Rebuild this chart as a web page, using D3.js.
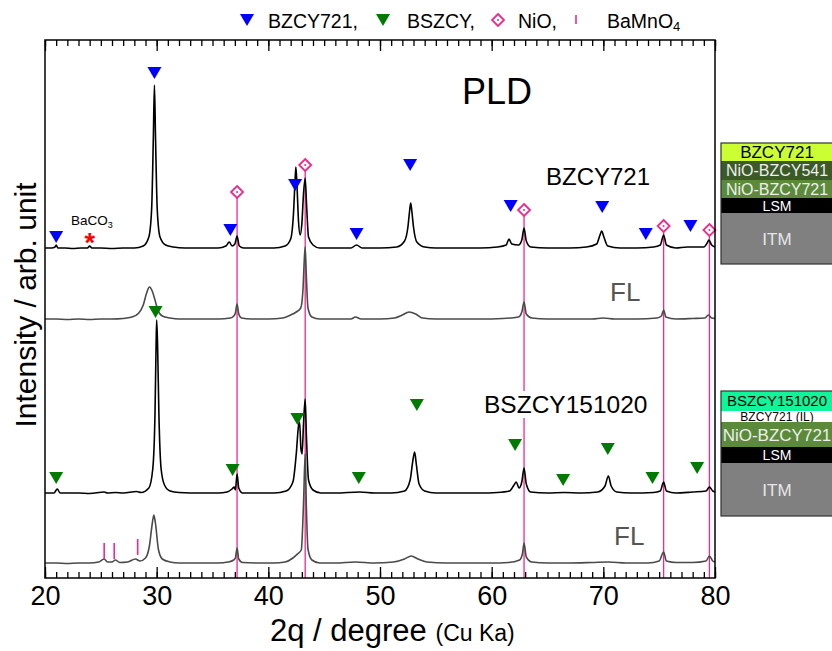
<!DOCTYPE html>
<html><head><meta charset="utf-8">
<script src="https://cdn.jsdelivr.net/npm/d3@7"></script>
<style>
html,body{margin:0;padding:0;background:#fff;}
svg{display:block;font-family:"Liberation Sans",Arial,Helvetica,sans-serif;}
</style></head>
<body><svg id="c" width="832" height="651"></svg>
<script>
// ---------- DATA ----------
const xDomain = [20, 80];
const xMajorTicks = [20, 30, 40, 50, 60, 70, 80];
const traceNames = ["BZCY721", "FL", "BSZCY151020", "FL"];
const traceOffsets = [329, 258, 84, 14];

const traceBZCY721 = [[20,1],[20.6,1],[20.9,2],[21.0,4],[21.15,1],[21.8,1],[22.5,0.5],[23.2,1],[23.8,1],[24.0,3],[24.2,1],[25,1],[26,0.5],[27,1],[28,1],[28.8,3],[29.3,12],[29.55,40],[29.7,110],[29.8,164],[29.9,110],[30.05,40],[30.3,12],[30.8,4],[31.5,2],[32.5,1],[34,1],[35.5,1],[36.2,3],[36.5,7],[36.75,3],[37.0,5],[37.2,13],[37.4,3],[37.8,1],[39,1],[40.5,1],[41.5,3],[42.0,10],[42.25,35],[42.4,70],[42.47,82],[42.58,60],[42.7,28],[42.85,14],[43.0,25],[43.15,55],[43.3,71],[43.42,45],[43.6,12],[44.0,4],[44.6,1],[46,1],[47.4,1],[47.9,4],[48.4,1],[50,1],[51.5,2],[52.2,8],[52.5,22],[52.65,38],[52.75,46],[52.85,38],[53.0,22],[53.3,7],[54,2],[55,1],[57,1],[59,1],[60.5,2],[61.3,4],[61.55,10],[61.8,5],[62.4,4],[62.7,9],[62.9,21],[63.1,8],[63.5,2],[65,1],[67,1],[68.5,2],[69.4,5],[69.7,14],[69.85,18],[70.05,12],[70.4,3],[71.5,1],[73,1],[74.5,2],[75.1,4],[75.4,14],[75.65,4],[76.5,1],[77.5,2],[78.2,2],[79.0,2],[79.3,6],[79.45,9],[79.7,4],[80,2]];
const traceFL1 = [[20,1],[21,1],[22,0.5],[23,1],[24,0.5],[25,1],[26,1],[27,1.5],[27.8,3],[28.4,7],[28.8,15],[29.1,27],[29.35,33],[29.6,29],[29.85,20],[30.1,10],[30.5,4],[31.2,2],[32,1],[34,1],[35.5,1],[36.6,2],[36.9,4],[37.05,7],[37.2,16],[37.35,6],[37.6,2],[38.5,1],[40,1],[41.3,2],[42.0,5],[42.5,8],[42.9,12],[43.1,30],[43.22,60],[43.3,73],[43.4,45],[43.55,12],[43.9,3],[44.6,1],[46,1],[47.4,1],[47.8,3],[48.3,1],[50,1],[51.3,2],[52.0,5],[52.6,8],[53.2,6],[53.8,2],[55,1],[57,1],[59,1],[61,1.5],[62.4,3],[62.7,8],[62.9,18],[63.1,6],[63.6,2],[65,1],[67,1],[69,1],[70,2],[71,1],[73,1],[74.8,2],[75.2,4],[75.4,10],[75.6,3],[76.5,1],[78,1.5],[79.1,2],[79.4,5],[79.7,2],[80,1.5]];
const traceBSZCY = [[20,1],[20.8,1],[21.1,5],[21.35,1],[22,1],[23,1],[24,0.5],[25.3,2],[25.6,1],[26.3,1.5],[27,1],[28.2,2.5],[28.6,1.5],[29.3,6],[29.65,25],[29.85,80],[29.95,150],[30.0,174],[30.08,150],[30.2,80],[30.4,25],[30.7,9],[31.2,3],[32,1.5],[34,1],[35.5,1],[36.3,2],[36.75,5],[36.95,7],[37.05,4],[37.2,20],[37.35,6],[37.7,1],[39,1],[40.5,1],[41.6,3],[42.2,12],[42.5,40],[42.7,68],[42.8,72],[42.92,45],[43.02,40],[43.15,70],[43.3,95],[43.42,55],[43.6,14],[44.0,4],[44.7,1],[46,1],[48.2,2],[49.5,1],[51,1],[52.2,3],[52.7,14],[52.95,34],[53.1,42],[53.25,30],[53.5,10],[54.0,3],[55,1],[57,1],[59,1],[60.5,1.5],[61.6,3],[62.0,9],[62.2,12],[62.45,6],[62.7,12],[62.9,26],[63.1,10],[63.5,2],[65,1],[66.5,1.5],[68,1],[69.5,2],[70.15,8],[70.45,18],[70.7,8],[71.2,2],[72.5,1],[74.5,1.5],[75.1,3],[75.4,12],[75.65,3],[76.5,1],[78,2],[79.2,3],[79.5,7],[79.8,3],[80,2]];
const traceFL2 = [[20,1],[21,1],[22,0.5],[23,1],[24,1],[24.8,2],[25.3,5],[25.6,2],[26.0,2],[26.3,4],[26.7,1.5],[27.4,2],[28.1,5],[28.5,3],[29.0,6],[29.35,18],[29.6,40],[29.75,49],[29.9,40],[30.15,15],[30.5,5],[31.2,2],[32,1],[34,1],[35.5,1],[36.4,2],[36.9,4],[37.05,6],[37.2,16],[37.35,5],[37.7,1.5],[39,1],[40.5,1],[41.5,2],[42.2,6],[42.6,10],[42.95,14],[43.15,60],[43.3,110],[43.4,60],[43.55,15],[43.9,4],[44.6,1],[46,1],[47.8,2],[49.5,1],[51.2,2],[52.2,5],[52.8,8],[53.4,5],[54.2,2],[56,1],[58,1],[60,1],[61.5,1.5],[62.5,4],[62.75,10],[62.9,21],[63.1,7],[63.6,2],[65,1],[67,1],[69,1.5],[70.5,2],[72,1],[74,1],[75.0,3],[75.4,12],[75.65,3],[76.5,1.5],[78,1.5],[79.2,3],[79.5,8],[79.8,3],[80,2]];

// phase markers [2theta, intensity]
const markBZCY721 = [[21.0,341],[29.8,505],[36.6,348],[42.4,393],[47.9,344],[52.7,413],[61.7,372],[69.9,371],[73.8,344],[77.8,352]];
const markBSZCY = [[21.0,100],[29.9,266],[36.8,108],[42.6,159],[48.1,100],[53.3,173],[62.1,133],[66.4,98],[70.4,129],[74.4,100],[78.4,110]];
const markNiO = [[37.2,386],[43.3,413],[62.9,368],[75.4,352],[79.5,348]];
const markBaMnO4 = [[25.3,19,35],[26.2,19,35],[28.3,23,39]];
const markBaCO3 = [[24.0,338]];

const legendLabels = ["BZCY721,", "BSZCY,", "NiO,", "BaMnO"];
const stackA = ["BZCY721", "NiO-BZCY541", "NiO-BZCY721", "LSM", "ITM"];
const stackB = ["BSZCY151020", "BZCY721 (IL)", "NiO-BZCY721", "LSM", "ITM"];

// ---------- DRAW ----------
const svg = d3.select("#c");
const L = 45, R = 715, T = 40, B = 578;
const x = d3.scaleLinear().domain(xDomain).range([L, R]);
const y = d3.scaleLinear().domain([0, B - T]).range([B, T]);

const PINK = "#ee2a8a", BLUE = "#0000ff", GREEN = "#007a00";
const FONT = '"Liberation Sans",Arial,Helvetica,sans-serif';

// NiO reference lines
markNiO.forEach(d => {
  svg.append("line").attr("x1", x(d[0])).attr("x2", x(d[0]))
    .attr("y1", y(d[1]) + 6).attr("y2", B)
    .attr("stroke", PINK).attr("stroke-width", 1.3);
});

// traces
const traces = [traceBZCY721, traceFL1, traceBSZCY, traceFL2];
const colors = ["#000", "#4a4a4a", "#000", "#4a4a4a"];
const line = d3.line().curve(d3.curveMonotoneX);
traces.forEach((t, i) => {
  svg.append("path")
    .attr("d", line(t.map(p => [x(p[0]), y(p[1] + traceOffsets[i])])))
    .attr("fill", "none").attr("stroke", colors[i]).attr("stroke-width", 1.6)
    .attr("stroke-linejoin", "round");
});

// triangles
const tri = (cx, cy, w, h) => `M${cx - w / 2},${cy - h / 2}L${cx + w / 2},${cy - h / 2}L${cx},${cy + h / 2}Z`;
markBZCY721.forEach(d => svg.append("path").attr("d", tri(x(d[0]), y(d[1]), 14, 12)).attr("fill", BLUE));
markBSZCY.forEach(d => svg.append("path").attr("d", tri(x(d[0]), y(d[1]), 14, 12)).attr("fill", GREEN));

// diamonds
const diamond = (g, cx, cy) => {
  g.append("path").attr("d", `M${cx},${cy - 6}L${cx + 6},${cy}L${cx},${cy + 6}L${cx - 6},${cy}Z`)
    .attr("fill", "#fff").attr("stroke", PINK).attr("stroke-width", 1.8);
  g.append("circle").attr("cx", cx).attr("cy", cy).attr("r", 1).attr("fill", PINK);
};
markNiO.forEach(d => diamond(svg, x(d[0]), y(d[1])));

// BaMnO4 ticks
markBaMnO4.forEach(d => svg.append("line").attr("x1", x(d[0])).attr("x2", x(d[0]))
  .attr("y1", y(d[1])).attr("y2", y(d[2])).attr("stroke", PINK).attr("stroke-width", 1.6));

// BaCO3 star + label
markBaCO3.forEach(d => {
  svg.append("text").attr("x", x(d[0])).attr("y", y(d[1]) + 12).attr("text-anchor", "middle")
    .attr("font-size", 27).attr("font-weight", "bold").attr("fill", "#ff0000").attr("font-family", FONT).text("*");
  const t = svg.append("text").attr("x", 71).attr("y", 225).attr("font-size", 13.5).attr("font-family", FONT);
  t.append("tspan").text("BaCO");
  t.append("tspan").attr("font-size", 9).attr("dy", 3).text("3");
});

// text labels
svg.append("text").attr("x", 462).attr("y", 104).attr("font-size", 36).attr("font-family", FONT).text("PLD");
svg.append("text").attr("x", 546).attr("y", 185).attr("font-size", 24).attr("font-family", FONT).text(traceNames[0]);
const bl = svg.append("text").attr("x", 484).attr("y", 413).attr("font-size", 24.5).attr("font-family", FONT).text(traceNames[2]);
const bb = bl.node().getBBox();
svg.insert("rect", "text").attr("x", bb.x - 2).attr("y", bb.y).attr("width", bb.width + 4).attr("height", bb.height).attr("fill", "#fff");
svg.append("text").attr("x", 610).attr("y", 301).attr("font-size", 26).attr("fill", "#555").attr("font-family", FONT).text(traceNames[1]);
svg.append("text").attr("x", 614).attr("y", 545).attr("font-size", 26).attr("fill", "#555").attr("font-family", FONT).text(traceNames[3]);

// frame
svg.append("rect").attr("x", L).attr("y", T).attr("width", R - L).attr("height", B - T)
  .attr("fill", "none").attr("stroke", "#000").attr("stroke-width", 1.5);

// axes (inward ticks)
const minorTicks = d3.range(xDomain[0], xDomain[1] + 1, 1);
const gB = svg.append("g").attr("transform", `translate(0,${B})`);
gB.call(d3.axisBottom(x).tickValues(minorTicks).tickSizeInner(-6).tickSizeOuter(0).tickFormat(""));
gB.call(g => g.select(".domain").remove());
const gB2 = svg.append("g").attr("transform", `translate(0,${B})`);
gB2.call(d3.axisBottom(x).tickValues(xMajorTicks).tickSizeInner(-11).tickSizeOuter(0).tickPadding(8).tickFormat(d3.format("d")));
gB2.call(g => g.select(".domain").remove());
gB2.selectAll("text").attr("font-size", 27).attr("font-family", FONT).attr("fill", "#000");
const gT = svg.append("g").attr("transform", `translate(0,${T})`);
gT.call(d3.axisTop(x).tickValues(minorTicks).tickSizeInner(-6).tickSizeOuter(0).tickFormat(""));
gT.call(g => g.select(".domain").remove());
const gT2 = svg.append("g").attr("transform", `translate(0,${T})`);
gT2.call(d3.axisTop(x).tickValues(xMajorTicks).tickSizeInner(-11).tickSizeOuter(0).tickFormat(""));
gT2.call(g => g.select(".domain").remove());
svg.selectAll(".tick line").attr("stroke", "#000").attr("stroke-width", 1.3);

// axis titles
const xt = svg.append("text").attr("x", 270).attr("y", 641).attr("font-family", FONT).attr("font-size", 31);
xt.append("tspan").text("2q / degree ");
xt.append("tspan").attr("font-size", 23).text("(Cu Ka)");
svg.append("text").attr("transform", "translate(36,305) rotate(-90)").attr("text-anchor", "middle")
  .attr("font-family", FONT).attr("font-size", 30).text("Intensity / arb. unit");

// legend
const ly = 20;
svg.append("path").attr("d", tri(247, ly, 14, 12)).attr("fill", BLUE);
svg.append("path").attr("d", tri(383, ly, 14, 12)).attr("fill", GREEN);
diamond(svg, 498, ly);
svg.append("line").attr("x1", 576).attr("x2", 576).attr("y1", ly - 5).attr("y2", ly + 4).attr("stroke", PINK).attr("stroke-width", 1.6);
const lx = [268, 407, 518, 607];
legendLabels.forEach((s, i) => {
  const t = svg.append("text").attr("x", lx[i]).attr("y", 28).attr("font-size", 19.5).attr("font-family", FONT).text(s);
  if (i === 3) t.append("tspan").attr("font-size", 13).attr("dy", 3).text("4");
});

// layer stacks
function stack(labels, top, heights, fills, textFills, sizes) {
  let yy = top;
  const g = svg.append("g");
  labels.forEach((s, i) => {
    g.append("rect").attr("x", 721).attr("y", yy).attr("width", 120).attr("height", heights[i]).attr("fill", fills[i]);
    g.append("text").attr("x", 777).attr("y", yy + heights[i] / 2).attr("dy", "0.36em")
      .attr("text-anchor", "middle").attr("font-size", sizes[i]).attr("font-family", FONT)
      .attr("fill", textFills[i]).text(s);
    yy += heights[i];
  });
  g.append("rect").attr("x", 721).attr("y", top).attr("width", 120).attr("height", yy - top)
    .attr("fill", "none").attr("stroke", "#333").attr("stroke-width", 1.2);
}
stack(stackA, 143, [18, 19, 18, 15, 51],
  ["#ccff33", "#3b5a28", "#5b8b3a", "#000", "#808080"],
  ["#000", "#eee", "#eee", "#fff", "#e6e6e6"], [17, 16, 16, 14, 17]);
stack(stackB, 391, [20, 11, 25, 16, 53],
  ["#11f59a", "#fff", "#5b8b3a", "#000", "#808080"],
  ["#000", "#000", "#eee", "#fff", "#e6e6e6"], [15, 12, 17, 14, 17]);
</script></body></html>
